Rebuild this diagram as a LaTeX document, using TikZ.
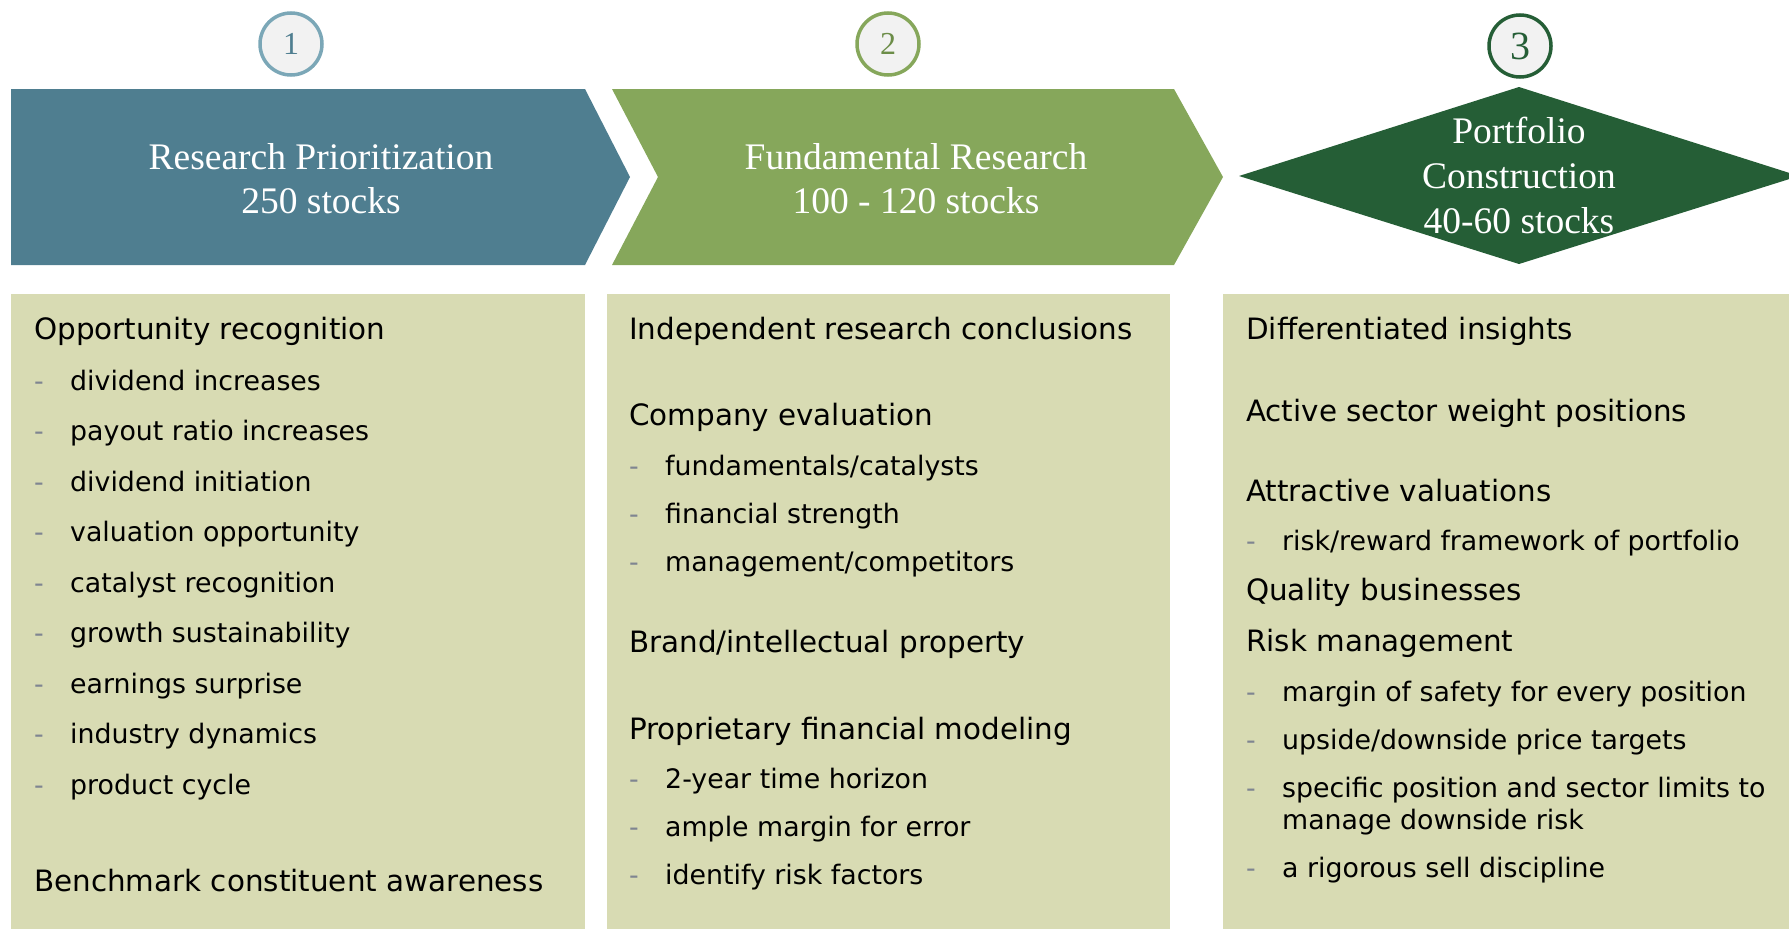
\documentclass[tikz,border=0pt]{standalone}
\usepackage{fontspec}
\setmainfont{DejaVu Sans}
\newfontfamily\serifhead{Liberation Serif}

\definecolor{stepblue}{HTML}{4F7E90}
\definecolor{stepgreen}{HTML}{86A75B}
\definecolor{stepdark}{HTML}{255E36}
\definecolor{ringblue}{HTML}{7BA7B7}
\definecolor{numgreen}{HTML}{6C8D48}
\definecolor{circfill}{HTML}{F2F2F2}
\definecolor{panelfill}{HTML}{D8DBB3}
\definecolor{dashgray}{HTML}{7F8591}

\begin{document}
\begin{tikzpicture}[x=1pt, y=-1pt,
    headtxt/.style={text=white, align=center, inner sep=0pt, font=\serifhead\fontsize{37.5}{44}\selectfont},
    numring/.style={circle, fill=circfill, line width=3.5pt, minimum size=62pt, inner sep=0pt, font=\serifhead\fontsize{32}{32}\selectfont},
    topic/.style={anchor=base west, inner sep=0pt, font=\fontsize{29.4}{34}\selectfont},
    pointtxt/.style={anchor=base west, inner sep=0pt, font=\fontsize{26.8}{30}\selectfont},
    point/.style={pointtxt, label={[dashmark]base west:-}},
    dashmark/.style={anchor=base west, inner sep=0pt, xshift=-36pt, text=dashgray, font=\fontsize{26.8}{30}\selectfont}]

    \useasboundingbox (0,0) rectangle (1789,929);

    % step headers
    \fill[stepblue] (11,89) -- (585,89) -- (630,177) -- (585,265) -- (11,265) -- cycle;
    \fill[stepgreen] (612,89) -- (1174,89) -- (1223,177) -- (1174,265) -- (612,265) -- (658,177) -- cycle;
    \begin{scope}
        \clip (0,0) rectangle (1789,929);
        \fill[stepdark] (1239,176) -- (1519,87) -- (1799,176) -- (1519,264) -- cycle;
    \end{scope}

    \node[headtxt] (h1) at (321,179) {Research Prioritization\\250 stocks};
    \node[headtxt] (h2) at (916,179) {Fundamental Research\\100 - 120 stocks};
    \node[headtxt, font=\serifhead\fontsize{37.5}{45}\selectfont] (h3) at (1519,175) {Portfolio\\Construction\\40-60 stocks};

    \node[numring, draw=ringblue, text=stepblue] (n1) at (291,44) {1};
    \node[numring, draw=stepgreen, text=numgreen] (n2) at (888,44) {2};
    \node[numring, draw=stepdark, text=stepdark, font=\serifhead\fontsize{40}{40}\selectfont] (n3) at (1520,46) {3};

    % panels
    \fill[panelfill] (11,294) rectangle (585,929);
    \fill[panelfill] (607,294) rectangle (1170,929);
    \fill[panelfill] (1223,294) rectangle (1789,929);

    % research prioritization
    \node[topic] (t11) at (34,339) {Opportunity recognition};
    \node[point] (p11) at (70,390) {dividend increases};
    \node[point] (p12) at (70,440.5) {payout ratio increases};
    \node[point] (p13) at (70,491) {dividend initiation};
    \node[point] (p14) at (70,541.5) {valuation opportunity};
    \node[point] (p15) at (70,592) {catalyst recognition};
    \node[point] (p16) at (70,642.5) {growth sustainability};
    \node[point] (p17) at (70,693) {earnings surprise};
    \node[point] (p18) at (70,743.5) {industry dynamics};
    \node[point] (p19) at (70,794) {product cycle};
    \node[topic] (t12) at (34,891) {Benchmark constituent awareness};

    % fundamental research
    \node[topic] (t21) at (629,339) {Independent research conclusions};
    \node[topic] (t22) at (629,425) {Company evaluation};
    \node[point] (p21) at (665,475) {fundamentals/catalysts};
    \node[point] (p22) at (665,523) {financial strength};
    \node[point] (p23) at (665,571) {management/competitors};
    \node[topic] (t23) at (629,652) {Brand/intellectual property};
    \node[topic] (t24) at (629,739) {Proprietary financial modeling};
    \node[point] (p24) at (665,788) {2-year time horizon};
    \node[point] (p25) at (665,836) {ample margin for error};
    \node[point] (p26) at (665,884) {identify risk factors};

    % portfolio construction
    \node[topic] (t31) at (1246,339) {Differentiated insights};
    \node[topic] (t32) at (1246,421) {Active sector weight positions};
    \node[topic] (t33) at (1246,501) {Attractive valuations};
    \node[point] (p31) at (1282,550) {risk/reward framework of portfolio};
    \node[topic] (t34) at (1246,600) {Quality businesses};
    \node[topic] (t35) at (1246,651) {Risk management};
    \node[point] (p32) at (1282,701) {margin of safety for every position};
    \node[point] (p33) at (1282,749) {upside/downside price targets};
    \node[point] (p34) at (1282,797) {specific position and sector limits to};
    \node[pointtxt] (p34b) at (1282,829) {manage downside risk};
    \node[point] (p35) at (1282,877) {a rigorous sell discipline};

\end{tikzpicture}
\end{document}
